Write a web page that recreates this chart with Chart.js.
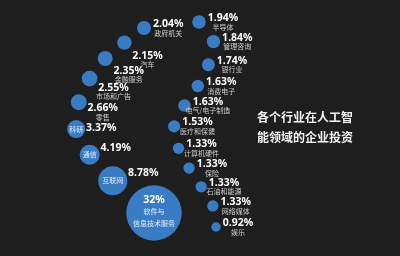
<!DOCTYPE html>
<html>
<head>
<meta charset="utf-8">
<script src="https://cdn.jsdelivr.net/npm/chart.js@4"></script>
<style>
  html, body { margin: 0; padding: 0; background: #1e1e1e; }
  #wrap { width: 400px; height: 256px; }
</style>
</head>
<body>
<div id="wrap"><canvas id="chart" width="400" height="256"></canvas></div>
<script>
// 行业（按投资占比从大到小）
const industries = ['软件与信息技术服务', '互联网', '通信', '科研', '零售', '市场和广告', '金融服务', '汽车', '政府机关',
  '半导体', '管理咨询', '银行业', '消费电子', '电气/电子制造', '医疗和保健', '计算机硬件', '保险', '石油和能源', '网络媒体', '娱乐'];
const shares = [32, 8.78, 4.19, 3.37, 2.66, 2.55, 2.35, 2.15, 2.04,
  1.94, 1.84, 1.74, 1.63, 1.63, 1.53, 1.33, 1.33, 1.33, 1.33, 0.92];
const titleLines = ['各个行业在人工智', '能领域的企业投资'];

// layout: bubbles are packed along two guide curves (pixel space)
const leftCount = 9;
const leftGuide = [[154, 213], [113, 181], [76, 128], [95, 70], [144, 28]];
const rightGuide = [[199, 22], [214, 45], [200, 82], [174, 127], [188, 166], [212, 204], [216, 227]];
const sizeK = 4.9;

const bubbleColor = '#3a7cc4';
const pctFont = 'bold 10.5px "Noto Sans"';
const catFont = '7px "Noto Sans CJK SC"';

function sampleSpline(pts, steps) {
  const out = [];
  for (let i = 0; i < pts.length - 1; i++) {
    const p0 = pts[Math.max(i - 1, 0)], p1 = pts[i], p2 = pts[i + 1], p3 = pts[Math.min(i + 2, pts.length - 1)];
    for (let s = 0; s < steps; s++) {
      const t = s / steps, t2 = t * t, t3 = t2 * t;
      const f = (a, b, c, d) => 0.5 * (2 * b + (c - a) * t + (2 * a - 5 * b + 4 * c - d) * t2 + (3 * b - a - 3 * c + d) * t3);
      out.push([f(p0[0], p1[0], p2[0], p3[0]), f(p0[1], p1[1], p2[1], p3[1])]);
    }
  }
  out.push(pts[pts.length - 1]);
  return out;
}

// place circles one after another along the curve, spreading the free space evenly
function packAlong(guide, radii) {
  const pts = sampleSpline(guide, 40);
  const len = [0];
  for (let i = 1; i < pts.length; i++) {
    len.push(len[i - 1] + Math.hypot(pts[i][0] - pts[i - 1][0], pts[i][1] - pts[i - 1][1]));
  }
  const total = len[len.length - 1];
  let need = 0;
  for (let i = 0; i < radii.length - 1; i++) need += radii[i] + radii[i + 1];
  const gap = (total - need) / (radii.length - 1);

  const res = [];
  let s = 0;
  radii.forEach((r, i) => {
    if (i > 0) s += radii[i - 1] + r + gap;
    let j = 1;
    while (j < len.length - 1 && len[j] < s) j++;
    const u = Math.min(1, (s - len[j - 1]) / ((len[j] - len[j - 1]) || 1));
    const tx = pts[j][0] - pts[j - 1][0], ty = pts[j][1] - pts[j - 1][1];
    const tl = Math.hypot(tx, ty) || 1;
    res.push({
      x: pts[j - 1][0] + tx * u,
      y: pts[j - 1][1] + ty * u,
      nx: -ty / tl,
      ny: tx / tl
    });
  });
  return res;
}

const radii = shares.map(v => sizeK * Math.sqrt(v));
const spots = packAlong(leftGuide, radii.slice(0, leftCount))
  .concat(packAlong(rightGuide, radii.slice(leftCount)));

const points = shares.map((v, i) => ({ x: spots[i].x, y: spots[i].y, r: radii[i] }));

const labelPlugin = {
  id: 'bubbleLabels',
  afterDatasetsDraw(chart) {
    const ctx = chart.ctx;
    const meta = chart.getDatasetMeta(0);
    ctx.save();
    ctx.textBaseline = 'middle';

    meta.data.forEach((el, i) => {
      const cx = el.x, cy = el.y, r = el.options.radius;
      const pct = shares[i] + '%';
      const name = industries[i];

      if (i === 0) {
        // biggest bubble: everything inside
        ctx.textAlign = 'center';
        ctx.fillStyle = '#ffffff';
        ctx.font = pctFont;
        ctx.fillText(pct, cx, cy - 13);
        ctx.font = catFont;
        ctx.fillStyle = '#e6eef8';
        ctx.fillText(name.slice(0, 3), cx, cy - 2);
        ctx.fillText(name.slice(3), cx, cy + 10);
        return;
      }

      let px, py;
      ctx.font = pctFont;
      const w = ctx.measureText(pct).width;
      if (i < leftCount - 1) {
        // label on the inner side of the left arc
        px = cx + r + 16;
        py = cy + spots[i].ny * 14 + 2;
      } else {
        px = cx + r + 2 + w / 2;
        py = cy - 4;
      }
      ctx.textAlign = 'center';
      ctx.fillStyle = '#ffffff';
      ctx.fillText(pct, px, py);

      ctx.font = catFont;
      if (i <= 3) {
        ctx.fillStyle = '#e6eef8';
        ctx.fillText(name, cx, cy);
      } else {
        ctx.fillStyle = '#cfcfcf';
        ctx.fillText(name, px, py + 9);
      }
    });

    // title
    ctx.textAlign = 'left';
    ctx.fillStyle = '#f2f2f2';
    ctx.font = 'bold 12px "Noto Sans CJK SC"';
    ctx.fillText(titleLines[0], 257, 117);
    ctx.fillText(titleLines[1], 257, 137);
    ctx.restore();
  }
};

const ctx = document.getElementById('chart').getContext('2d');
new Chart(ctx, {
  type: 'bubble',
  data: {
    datasets: [{
      data: points,
      backgroundColor: bubbleColor,
      borderWidth: 0,
      hoverRadius: 0,
      clip: false
    }]
  },
  options: {
    responsive: false,
    animation: false,
    layout: { padding: 0, autoPadding: false },
    scales: {
      x: { display: false, min: 0, max: 400 },
      y: { display: false, min: 0, max: 256, reverse: true }
    },
    plugins: {
      legend: { display: false },
      tooltip: { enabled: false }
    }
  },
  plugins: [labelPlugin]
});
</script>
</body>
</html>
